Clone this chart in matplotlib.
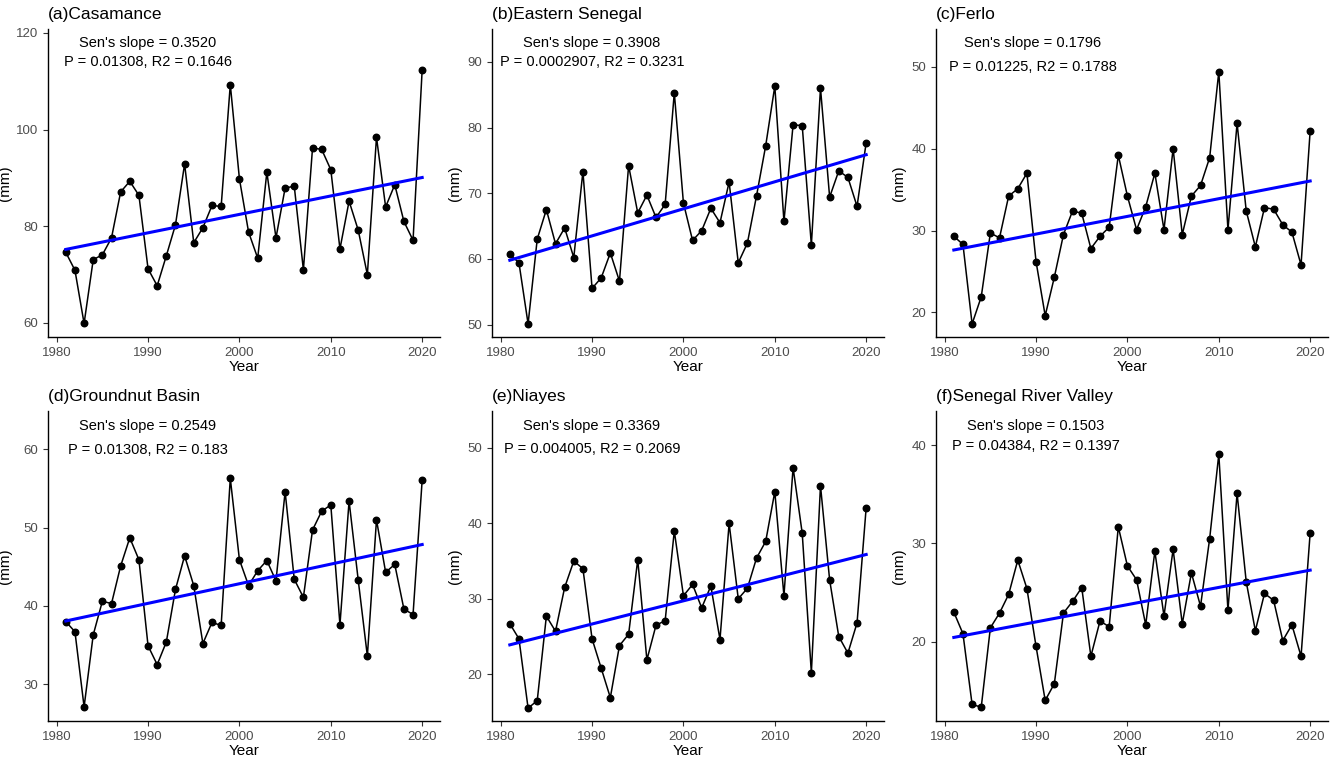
import numpy as np
import matplotlib
matplotlib.use("Agg")
import matplotlib.pyplot as plt

plt.rcParams['font.family'] = ['Liberation Sans', 'DejaVu Sans']

years = list(range(1981, 2021))

titles = ["(a)Casamance", "(b)Eastern Senegal", "(c)Ferlo",
          "(d)Groundnut Basin", "(e)Niayes", "(f)Senegal River Valley"]

stats_line1 = ["Sen's slope = 0.3520", "Sen's slope = 0.3908", "Sen's slope = 0.1796",
               "Sen's slope = 0.2549", "Sen's slope = 0.3369", "Sen's slope = 0.1503"]
stats_line2 = ["P = 0.01308, R2 = 0.1646", "P = 0.0002907, R2 = 0.3231",
               "P = 0.01225, R2 = 0.1788", "P = 0.01308, R2 = 0.183",
               "P = 0.004005, R2 = 0.2069", "P = 0.04384, R2 = 0.1397"]

casamance = [74.6, 70.9, 59.9, 73.1, 74.1, 77.6, 87.1, 89.3, 86.4, 71.2,
             67.7, 73.9, 80.3, 92.9, 76.6, 79.7, 84.3, 84.1, 109.3, 89.8,
             78.8, 73.4, 91.2, 77.6, 87.9, 88.3, 71.0, 96.2, 95.9, 91.7,
             75.3, 85.2, 79.2, 70.0, 98.4, 84.0, 88.6, 81.0, 77.1, 112.4]
eastern = [60.7, 59.4, 50.1, 63.0, 67.5, 62.3, 64.7, 60.2, 73.3, 55.5,
           57.1, 60.9, 56.6, 74.2, 67.0, 69.7, 66.3, 68.3, 85.3, 68.5,
           62.8, 64.3, 67.7, 65.5, 71.7, 59.4, 62.4, 69.6, 77.2, 86.3,
           65.7, 80.4, 80.3, 62.1, 86.0, 69.4, 73.4, 72.4, 68.0, 77.7]
ferlo = [29.3, 28.3, 18.6, 21.9, 29.7, 29.1, 34.2, 35.1, 37.0, 26.2,
         19.6, 24.3, 29.5, 32.4, 32.1, 27.8, 29.3, 30.4, 39.2, 34.2,
         30.1, 32.9, 37.0, 30.1, 40.0, 29.5, 34.2, 35.5, 38.9, 49.4,
         30.1, 43.1, 32.4, 28.0, 32.8, 32.6, 30.7, 29.8, 25.8, 42.2]
groundnut = [38.0, 36.7, 27.1, 36.3, 40.6, 40.3, 45.1, 48.7, 45.9, 34.9,
             32.5, 35.4, 42.1, 46.4, 42.6, 35.2, 37.9, 37.5, 56.3, 45.9,
             42.6, 44.5, 45.8, 43.2, 54.6, 43.4, 41.1, 49.7, 52.1, 52.9,
             37.6, 53.4, 43.3, 33.6, 51.0, 44.3, 45.3, 39.6, 38.9, 56.1]
niayes = [26.7, 24.7, 15.5, 16.5, 27.7, 25.7, 31.5, 35.0, 34.0, 24.7,
          20.8, 16.9, 23.8, 25.3, 35.2, 21.9, 26.5, 27.1, 39.0, 30.4,
          31.9, 28.8, 31.7, 24.6, 40.0, 30.0, 31.4, 35.4, 37.6, 44.2,
          30.4, 47.4, 38.7, 20.2, 45.0, 32.5, 25.0, 22.8, 26.8, 42.1]
river = [23.0, 20.8, 13.6, 13.3, 21.4, 22.9, 24.8, 28.3, 25.4, 19.5,
         14.0, 15.7, 22.9, 24.1, 25.5, 18.5, 22.1, 21.5, 31.7, 27.7,
         26.3, 21.7, 29.2, 22.6, 29.4, 21.8, 27.0, 23.6, 30.5, 39.1,
         23.2, 35.1, 26.1, 21.1, 24.9, 24.2, 20.1, 21.7, 18.5, 31.1]

series = [casamance, eastern, ferlo, groundnut, niayes, river]

yticks = [[60, 80, 100, 120], [50, 60, 70, 80, 90], [20, 30, 40, 50],
          [30, 40, 50, 60], [20, 30, 40, 50], [20, 30, 40]]
ylims = [(57.1, 120.8), (48.1, 95.0), (17.0, 54.6),
         (25.3, 64.9), (13.8, 54.9), (11.9, 43.5)]
xticks = [1980, 1990, 2000, 2010, 2020]

W, H = 1332, 758
fig = plt.figure(figsize=(W / 100, H / 100), dpi=100)

lefts = [48, 492, 936]
tops = [29, 411]
bottoms = [337, 721]
aw = 392

text_y = [(0.955, 0.893), (0.955, 0.893), (0.955, 0.877),
          (0.952, 0.874), (0.952, 0.877), (0.952, 0.887)]
text_x = [0.255, 0.255, 0.247, 0.255, 0.255, 0.255]
ylab_x = [-0.092, -0.077, -0.077, -0.092, -0.077, -0.077]

for i in range(6):
    r, c = divmod(i, 3)
    l = lefts[c]
    t = tops[r]
    b = bottoms[r]
    ax = fig.add_axes([l / W, 1 - b / H, aw / W, (b - t) / H])
    y = np.array(series[i])
    x = np.array(years)
    ax.plot(x, y, color='black', lw=1.1, zorder=2)
    ax.scatter(x, y, color='black', s=22, zorder=3)
    k, b0 = np.polyfit(x, y, 1)
    ax.plot([x[0], x[-1]], [k * x[0] + b0, k * x[-1] + b0], color='#0000FF', lw=2.2, zorder=4)
    ax.set_xlim(1979.05, 2021.95)
    ax.set_ylim(*ylims[i])
    ax.set_xticks(xticks)
    ax.set_yticks(yticks[i])
    for s in ['top', 'right']:
        ax.spines[s].set_visible(False)
    for s in ['left', 'bottom']:
        ax.spines[s].set_linewidth(1.0)
        ax.spines[s].set_color('black')
    ax.tick_params(axis='both', direction='out', length=3.5, width=0.8,
                   colors='#333333', labelsize=9.5, labelcolor='#4D4D4D')
    ax.set_xlabel('Year', fontsize=11, labelpad=1)
    ax.set_ylabel('(mm)', fontsize=11)
    ax.yaxis.set_label_coords(ylab_x[i], 0.5)
    ax.set_title(titles[i], loc='left', fontsize=12.5, pad=7.5, x=-0.0)
    ax.text(text_x[i], text_y[i][0], stats_line1[i], transform=ax.transAxes,
            ha='center', va='center', fontsize=10.5)
    ax.text(text_x[i], text_y[i][1], stats_line2[i], transform=ax.transAxes,
            ha='center', va='center', fontsize=10.5)

fig.savefig('out.png', dpi=100)
